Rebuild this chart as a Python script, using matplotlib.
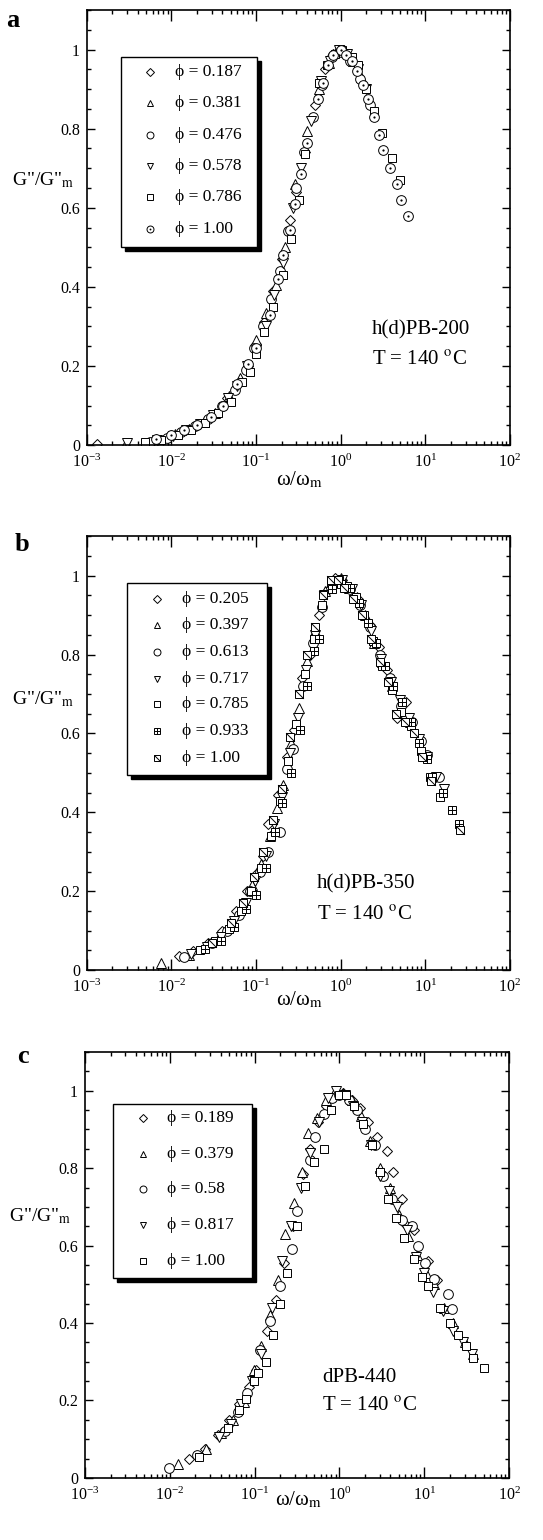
import matplotlib
matplotlib.use('Agg')
import matplotlib.pyplot as plt
from matplotlib.path import Path
from matplotlib.patches import Rectangle
from matplotlib.ticker import LogLocator, MultipleLocator, FuncFormatter, NullFormatter

plt.rcParams['font.family'] = ['Liberation Serif', 'DejaVu Serif']
plt.rcParams['mathtext.fontset'] = 'stix'

DIAG = Path([(-1, 1), (1, -1)], [Path.MOVETO, Path.LINETO])

# ---- panel a : h(d)PB-200 ----
a_phi = ['0.187', '0.381', '0.476', '0.578', '0.786', '1.00']
a_kind = ['diamond', 'up', 'circle', 'down', 'square', 'dotcircle']
a_x = [
    [0.00132, 0.0062, 0.0098, 0.0145, 0.021, 0.03, 0.045, 0.063, 0.08, 0.1, 0.125, 0.16, 0.2, 0.25, 0.3, 0.38, 0.5, 0.65, 0.82, 1.0, 1.2],
    [0.0029, 0.0065, 0.011, 0.016, 0.024, 0.033, 0.048, 0.065, 0.1, 0.13, 0.17, 0.22, 0.29, 0.4, 0.55, 0.72, 0.9, 1.1, 1.4, 1.75],
    [0.0055, 0.0088, 0.013, 0.019, 0.027, 0.04, 0.056, 0.075, 0.095, 0.12, 0.15, 0.19, 0.24, 0.3, 0.37, 0.47, 0.6, 0.78, 1.0, 1.3, 1.7, 2.2],
    [0.003, 0.0068, 0.0105, 0.015, 0.022, 0.031, 0.046, 0.06, 0.078, 0.1, 0.13, 0.165, 0.21, 0.27, 0.34, 0.45, 0.58, 0.75, 0.95, 1.2, 1.6, 2.0],
    [0.0048, 0.0075, 0.012, 0.017, 0.025, 0.035, 0.05, 0.068, 0.085, 0.1, 0.125, 0.16, 0.21, 0.26, 0.32, 0.38, 0.55, 0.68, 0.85, 1.05, 1.35, 1.6, 2.0, 2.5, 3.1, 4.0, 5.0],
    [0.0065, 0.01, 0.014, 0.02, 0.029, 0.041, 0.06, 0.08, 0.1, 0.145, 0.18, 0.21, 0.25, 0.29, 0.34, 0.4, 0.54, 0.62, 0.7, 0.81, 1.0, 1.15, 1.35, 1.55, 1.85, 2.1, 2.45, 2.8, 3.2, 3.8, 4.6, 5.2, 6.2],
]
a_y = [
    [0.002, 0.013, 0.025, 0.038, 0.052, 0.075, 0.12, 0.16, 0.2, 0.255, 0.31, 0.39, 0.47, 0.57, 0.64, 0.74, 0.86, 0.95, 0.99, 1.0, 0.99],
    [0.006, 0.015, 0.028, 0.04, 0.058, 0.082, 0.125, 0.17, 0.265, 0.335, 0.405, 0.5, 0.66, 0.795, 0.9, 0.965, 1.0, 1.0, 0.97, 0.93],
    [0.008, 0.018, 0.033, 0.048, 0.066, 0.1, 0.14, 0.19, 0.245, 0.3, 0.37, 0.44, 0.54, 0.65, 0.74, 0.83, 0.91, 0.98, 0.995, 0.97, 0.925, 0.86],
    [0.005, 0.012, 0.022, 0.037, 0.053, 0.077, 0.12, 0.15, 0.2, 0.24, 0.3, 0.38, 0.46, 0.6, 0.7, 0.82, 0.92, 0.97, 1.0, 0.99, 0.95, 0.9],
    [0.008, 0.013, 0.025, 0.038, 0.055, 0.08, 0.11, 0.16, 0.185, 0.23, 0.285, 0.35, 0.43, 0.52, 0.62, 0.735, 0.915, 0.96, 0.99, 1.0, 0.98, 0.96, 0.9, 0.845, 0.79, 0.725, 0.67],
    [0.015, 0.026, 0.038, 0.05, 0.072, 0.1, 0.155, 0.205, 0.245, 0.33, 0.42, 0.48, 0.545, 0.61, 0.685, 0.765, 0.875, 0.915, 0.96, 0.985, 1.0, 0.985, 0.97, 0.945, 0.91, 0.875, 0.83, 0.785, 0.745, 0.7, 0.66, 0.62, 0.58],
]

# ---- panel b : h(d)PB-350 ----
b_phi = ['0.205', '0.397', '0.613', '0.717', '0.785', '0.933', '1.00']
b_kind = ['diamond', 'up', 'circle', 'down', 'square', 'plussquare', 'diagsquare']
b_x = [
    [0.0122, 0.018, 0.027, 0.04, 0.058, 0.078, 0.1, 0.12, 0.138, 0.18, 0.23, 0.28, 0.35, 0.43, 0.55, 0.68, 0.85, 1.05, 1.3, 1.6, 2.2, 2.8, 3.5, 4.6, 5.9],
    [0.0075, 0.016, 0.024, 0.036, 0.05, 0.068, 0.09, 0.115, 0.145, 0.175, 0.21, 0.26, 0.32, 0.4, 0.5, 0.65, 0.8, 1.0, 1.25, 1.55, 1.95, 2.5, 3.1, 4.0, 5.2, 6.6],
    [0.014, 0.03, 0.045, 0.062, 0.085, 0.11, 0.14, 0.19, 0.23, 0.27, 0.36, 0.47, 0.6, 0.78, 1.0, 1.3, 1.7, 2.2, 2.9, 3.8, 5.2, 7.0, 9.0, 10.5, 14.5],
    [0.017, 0.026, 0.038, 0.055, 0.075, 0.098, 0.13, 0.165, 0.2, 0.25, 0.31, 0.39, 0.5, 0.63, 0.82, 1.05, 1.35, 1.75, 2.3, 3.0, 3.9, 5.0, 6.5, 8.4, 10.5, 13.5, 16.5],
    [0.022, 0.033, 0.048, 0.066, 0.088, 0.115, 0.15, 0.19, 0.24, 0.3, 0.38, 0.48, 0.6, 0.77, 0.95, 1.2, 1.5, 1.9, 2.4, 3.1, 4.0, 5.2, 6.8, 8.8, 11.5, 15.0],
    [0.025, 0.038, 0.055, 0.075, 0.1, 0.13, 0.166, 0.2, 0.26, 0.33, 0.4, 0.48, 0.56, 0.8, 1.0, 1.3, 1.65, 2.1, 2.6, 3.3, 4.2, 5.3, 6.8, 8.5, 10.5, 12.0, 16.0, 20.5, 25.0],
    [0.03, 0.05, 0.07, 0.095, 0.12, 0.16, 0.2, 0.25, 0.32, 0.4, 0.5, 0.62, 0.76, 0.92, 1.1, 1.4, 1.8, 2.3, 2.9, 3.6, 4.5, 5.7, 7.3, 9.2, 11.8, 25.8],
]
b_y = [
    [0.035, 0.048, 0.07, 0.1, 0.15, 0.2, 0.245, 0.29, 0.37, 0.445, 0.54, 0.61, 0.74, 0.8, 0.9, 0.96, 0.995, 0.99, 0.97, 0.94, 0.875, 0.82, 0.76, 0.64, 0.68],
    [0.018, 0.038, 0.058, 0.085, 0.115, 0.16, 0.215, 0.27, 0.34, 0.41, 0.47, 0.575, 0.665, 0.785, 0.86, 0.96, 0.985, 0.995, 0.97, 0.945, 0.9, 0.83, 0.78, 0.72, 0.66, 0.63],
    [0.033, 0.07, 0.1, 0.14, 0.2, 0.25, 0.3, 0.35, 0.51, 0.56, 0.72, 0.83, 0.92, 0.98, 0.99, 0.965, 0.925, 0.87, 0.8, 0.74, 0.67, 0.63, 0.58, 0.545, 0.49],
    [0.04, 0.06, 0.085, 0.125, 0.17, 0.225, 0.29, 0.37, 0.44, 0.55, 0.64, 0.76, 0.85, 0.95, 0.985, 0.99, 0.965, 0.925, 0.86, 0.79, 0.73, 0.685, 0.64, 0.585, 0.54, 0.49, 0.46],
    [0.05, 0.075, 0.105, 0.15, 0.2, 0.26, 0.34, 0.43, 0.53, 0.625, 0.75, 0.84, 0.925, 0.985, 0.99, 0.975, 0.945, 0.9, 0.835, 0.77, 0.71, 0.655, 0.62, 0.555, 0.49, 0.44],
    [0.055, 0.075, 0.11, 0.155, 0.19, 0.26, 0.35, 0.425, 0.5, 0.61, 0.72, 0.81, 0.84, 0.965, 0.98, 0.97, 0.93, 0.88, 0.83, 0.77, 0.72, 0.68, 0.63, 0.575, 0.535, 0.49, 0.45, 0.405, 0.37],
    [0.07, 0.12, 0.17, 0.235, 0.3, 0.38, 0.46, 0.59, 0.7, 0.8, 0.87, 0.95, 0.99, 0.99, 0.97, 0.94, 0.9, 0.84, 0.78, 0.73, 0.65, 0.63, 0.6, 0.54, 0.48, 0.355],
]

# ---- panel c : dPB-440 ----
c_phi = ['0.189', '0.379', '0.58', '0.817', '1.00']
c_kind = ['diamond', 'up', 'circle', 'down', 'square']
c_x = [
    [0.017, 0.026, 0.037, 0.05, 0.066, 0.085, 0.105, 0.14, 0.18, 0.22, 0.28, 0.37, 0.45, 0.56, 0.7, 0.88, 1.1, 1.4, 1.75, 2.2, 2.75, 3.6, 4.3, 5.5, 5.9, 7.5, 11.0, 14.0],
    [0.0125, 0.027, 0.04, 0.055, 0.075, 0.098, 0.12, 0.15, 0.19, 0.23, 0.29, 0.36, 0.43, 0.55, 0.7, 0.88, 1.1, 1.4, 1.8, 2.3, 3.0, 3.9, 5.0, 6.4, 8.2, 10.5, 13.0, 17.0, 22.0, 30.0, 38.0],
    [0.0098, 0.021, 0.045, 0.063, 0.082, 0.115, 0.15, 0.2, 0.275, 0.32, 0.45, 0.52, 0.65, 0.82, 1.0, 1.3, 1.6, 2.0, 2.6, 3.3, 4.2, 5.4, 7.2, 8.5, 10.2, 13.0, 19.0, 21.0],
    [0.038, 0.052, 0.07, 0.092, 0.12, 0.16, 0.21, 0.27, 0.35, 0.45, 0.58, 0.74, 0.92, 1.15, 1.45, 1.85, 2.35, 3.0, 3.8, 4.8, 6.2, 7.9, 10.0, 12.8, 16.5, 22.0, 29.0, 37.0],
    [0.022, 0.048, 0.065, 0.08, 0.098, 0.11, 0.135, 0.165, 0.2, 0.24, 0.32, 0.39, 0.5, 0.65, 0.8, 1.0, 1.2, 1.5, 1.9, 2.4, 3.0, 3.7, 4.6, 5.8, 7.5, 9.3, 11.0, 15.5, 20.0, 25.0, 31.0, 38.0, 50.0],
]
c_y = [
    [0.048, 0.075, 0.11, 0.15, 0.19, 0.235, 0.28, 0.38, 0.46, 0.555, 0.65, 0.785, 0.85, 0.92, 0.96, 0.99, 0.995, 0.975, 0.955, 0.92, 0.88, 0.845, 0.79, 0.72, 0.655, 0.64, 0.56, 0.51],
    [0.035, 0.075, 0.115, 0.15, 0.195, 0.28, 0.34, 0.42, 0.51, 0.63, 0.71, 0.79, 0.89, 0.93, 0.975, 1.0, 0.995, 0.975, 0.935, 0.87, 0.8, 0.75, 0.68, 0.625, 0.575, 0.53, 0.5, 0.44, 0.4, 0.35, 0.32],
    [0.025, 0.058, 0.12, 0.17, 0.22, 0.33, 0.405, 0.495, 0.59, 0.69, 0.82, 0.88, 0.94, 0.98, 0.99, 0.975, 0.95, 0.9, 0.86, 0.78, 0.72, 0.665, 0.65, 0.6, 0.555, 0.515, 0.475, 0.435],
    [0.105, 0.14, 0.19, 0.25, 0.32, 0.44, 0.56, 0.65, 0.75, 0.84, 0.92, 0.98, 1.0, 0.99, 0.96, 0.92, 0.86, 0.78, 0.74, 0.7, 0.64, 0.57, 0.53, 0.48, 0.43, 0.38, 0.35, 0.32],
    [0.055, 0.13, 0.175, 0.205, 0.25, 0.27, 0.3, 0.37, 0.45, 0.53, 0.65, 0.755, 0.815, 0.85, 0.95, 0.99, 0.99, 0.96, 0.915, 0.86, 0.79, 0.72, 0.67, 0.62, 0.565, 0.52, 0.495, 0.44, 0.4, 0.37, 0.34, 0.31, 0.285],
]


def marks(ax, x, y, kind, ms, **kw):
    st = dict(ls='none', mec='k', mfc='white', mew=0.7)
    st.update(kw)
    if kind == 'diamond':
        ax.plot(x, y, marker='D', ms=ms * 0.75, **st)
    elif kind == 'up':
        ax.plot(x, y, marker='^', ms=ms, **st)
    elif kind == 'down':
        ax.plot(x, y, marker='v', ms=ms, **st)
    elif kind == 'circle':
        ax.plot(x, y, marker='o', ms=ms, **st)
    elif kind == 'square':
        ax.plot(x, y, marker='s', ms=ms * 0.9, **st)
    elif kind == 'dotcircle':
        ax.plot(x, y, marker='o', ms=ms, **st)
        st['mfc'] = 'k'
        ax.plot(x, y, marker='.', ms=ms * 0.25, **st)
    elif kind == 'plussquare':
        ax.plot(x, y, marker='s', ms=ms * 0.9, **st)
        ax.plot(x, y, marker='+', ms=ms * 0.9, **st)
    elif kind == 'diagsquare':
        ax.plot(x, y, marker='s', ms=ms * 0.9, **st)
        ax.plot(x, y, marker=DIAG, ms=ms * 0.9, **st)


def panel(rect, letter, lpos, xs, ys, kinds, phis, box, rows, mx, tx, name, name_y, xlab_y, ylab_y):
    ax = fig.add_axes(rect)
    for x, y, k in zip(xs, ys, kinds):
        marks(ax, x, y, k, 7.0)
    ax.set_xscale('log')
    ax.set_xlim(1e-3, 1e2)
    ax.set_ylim(0, 1.1)
    ax.xaxis.set_major_locator(LogLocator(base=10, numticks=10))
    ax.xaxis.set_minor_locator(LogLocator(base=10, subs=range(2, 10), numticks=10))
    ax.xaxis.set_minor_formatter(NullFormatter())
    ax.yaxis.set_major_locator(MultipleLocator(0.2))
    ax.yaxis.set_minor_locator(MultipleLocator(0.05))
    ax.yaxis.set_major_formatter(FuncFormatter(lambda v, p: '%g' % round(v, 2)))
    ax.tick_params(which='both', direction='in', top=True, right=True, labelsize=11.5, width=1)
    ax.tick_params(which='major', length=6)
    ax.tick_params(which='minor', length=3)
    ax.tick_params(axis='x', which='major', length=8, pad=6)
    ax.tick_params(axis='y', pad=5)
    for s in ax.spines.values():
        s.set_linewidth(1.2)

    # legend box with drop shadow
    x0, x1, y0, y1 = box
    ax.add_patch(Rectangle((x0 + 0.009, y0 - 0.009), x1 - x0, y1 - y0, transform=ax.transAxes,
                           fc='k', ec='k', lw=1, zorder=5))
    ax.add_patch(Rectangle((x0, y0), x1 - x0, y1 - y0, transform=ax.transAxes,
                           fc='white', ec='k', lw=1, zorder=6))
    for ry, k, ph in zip(rows, kinds, phis):
        marks(ax, [mx], [ry], k, 5.0, transform=ax.transAxes, clip_on=False, zorder=7)
        ax.text(tx, ry, '\u03d5 = ' + ph, transform=ax.transAxes, fontsize=12.5,
                ha='left', va='center', zorder=7)

    ax.text(lpos[0], lpos[1], letter, transform=ax.transAxes, fontsize=19, fontweight='bold',
            va='center')
    ax.text(name[0], name_y[0], name[1], transform=ax.transAxes, fontsize=15, ha='left', va='center')
    ax.text(name[0], name_y[1], 'T = 140 $^{\\mathrm{o}}$C', transform=ax.transAxes, fontsize=15,
            ha='left', va='center')
    ax.text(0.503, xlab_y, '\u03c9/\u03c9$_{\\mathrm{m}}$', transform=ax.transAxes, fontsize=15,
            ha='center', va='center')
    ax.text(-0.178, ylab_y, 'G"/G"$_{\\mathrm{m}}$', transform=ax.transAxes, fontsize=14,
            ha='left', va='center')
    return ax


fig = plt.figure(figsize=(5.43, 15.4), dpi=100)

panel([0.160, 0.711, 0.779, 0.2825], 'a', (-0.19, 0.975), a_x, a_y, a_kind, a_phi,
      (0.080, 0.402, 0.455, 0.892), [0.857, 0.786, 0.713, 0.641, 0.570, 0.497],
      0.149, 0.208, (0.674, 'h(d)PB-200'), (0.264, 0.195), -0.08, 0.61)
panel([0.160, 0.370, 0.779, 0.2818], 'b', (-0.17, 0.98), b_x, b_y, b_kind, b_phi,
      (0.095, 0.426, 0.449, 0.892), [0.856, 0.795, 0.733, 0.672, 0.613, 0.551, 0.490],
      0.165, 0.225, (0.544, 'h(d)PB-350'), (0.2, 0.127), -0.069, 0.625)
panel([0.1565, 0.0403, 0.781, 0.2766], 'c', (-0.16, 0.99), c_x, c_y, c_kind, c_phi,
      (0.066, 0.394, 0.47, 0.878), [0.844, 0.761, 0.678, 0.594, 0.510],
      0.137, 0.193, (0.559, 'dPB-440'), (0.235, 0.167), -0.052, 0.615)

fig.savefig('out.png', dpi=100)
